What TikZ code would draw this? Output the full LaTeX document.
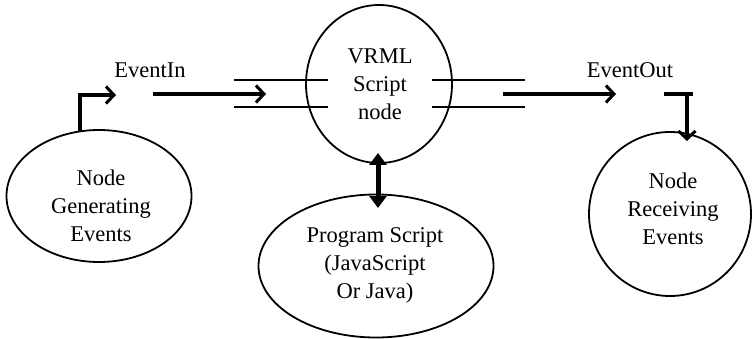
\documentclass[tikz,border=0pt]{standalone}
\usepackage{fontspec}
\setmainfont{Liberation Serif}
\usetikzlibrary{shapes.geometric,arrows.meta}
\begin{document}
\begin{tikzpicture}[x=1pt,y=-1pt,
  oval/.style={draw,ellipse,line width=1.8pt,inner sep=0pt},
  lbl/.style={font=\fontsize{22.5}{28}\selectfont,align=center,inner sep=0pt},
  flow/.style={line width=3.6pt,-{Straight Barb[length=8pt,width=17pt,line width=3pt]}},
  both/.style={line width=5pt,{Triangle[length=12pt,width=17pt]}-{Triangle[length=12pt,width=17pt]}},
  chan/.style={line width=2pt}]
\useasboundingbox (0,0) rectangle (752,339);
% ellipses
\node[oval,minimum width=185pt,minimum height=132pt] (gen) at (99,196) {};
\node[oval,minimum width=146pt,minimum height=158pt] (vrml) at (379,84) {};
\node[oval,minimum width=235pt,minimum height=143pt] (prog) at (376,266) {};
\node[oval,minimum width=162pt,minimum height=164pt] (recv) at (670,214) {};
% texts
\node[lbl] (gentxt) at (101,206) {Node\\Generating\\Events};
\node[lbl] (vrmltxt) at (380,84) {VRML\\Script\\node};
\node[lbl] (progtxt) at (375,265) {Program Script\\(JavaScript\\Or Java)};
\node[lbl] (recvtxt) at (673,209) {Node\\Receiving\\Events};
\node[lbl] (evin) at (150,70) {EventIn};
\node[lbl] (evout) at (630,70) {EventOut};
% channel lines
\coordinate (c1) at (234,80); \coordinate (c2) at (328,80);
\coordinate (c3) at (234,107); \coordinate (c4) at (328,107);
\coordinate (c5) at (432,80); \coordinate (c6) at (525,80);
\coordinate (c7) at (432,107); \coordinate (c8) at (525,107);
\draw[chan] (c1) -- (c2);
\draw[chan] (c3) -- (c4);
\draw[chan] (c5) -- (c6);
\draw[chan] (c7) -- (c8);
% arrows
\coordinate (g0) at (80,131);
\coordinate (g1) at (116,95);
\draw[flow] (g0) |- (g1);
\coordinate (a0) at (153,94);
\coordinate (a1) at (266,94);
\draw[flow] (a0) -- (a1);
\coordinate (b0) at (503,94);
\coordinate (b1) at (616,94);
\draw[flow] (b0) -- (b1);
\coordinate (r0) at (664,94);
\coordinate (r1) at (687,141);
\draw[line width=3.6pt] (r0) -- (693,94);
\draw[flow] (687,94) -- (r1);
\coordinate (d0) at (378,153);
\coordinate (d1) at (378,208);
\draw[both] (d0) -- (d1);
\end{tikzpicture}
\end{document}
